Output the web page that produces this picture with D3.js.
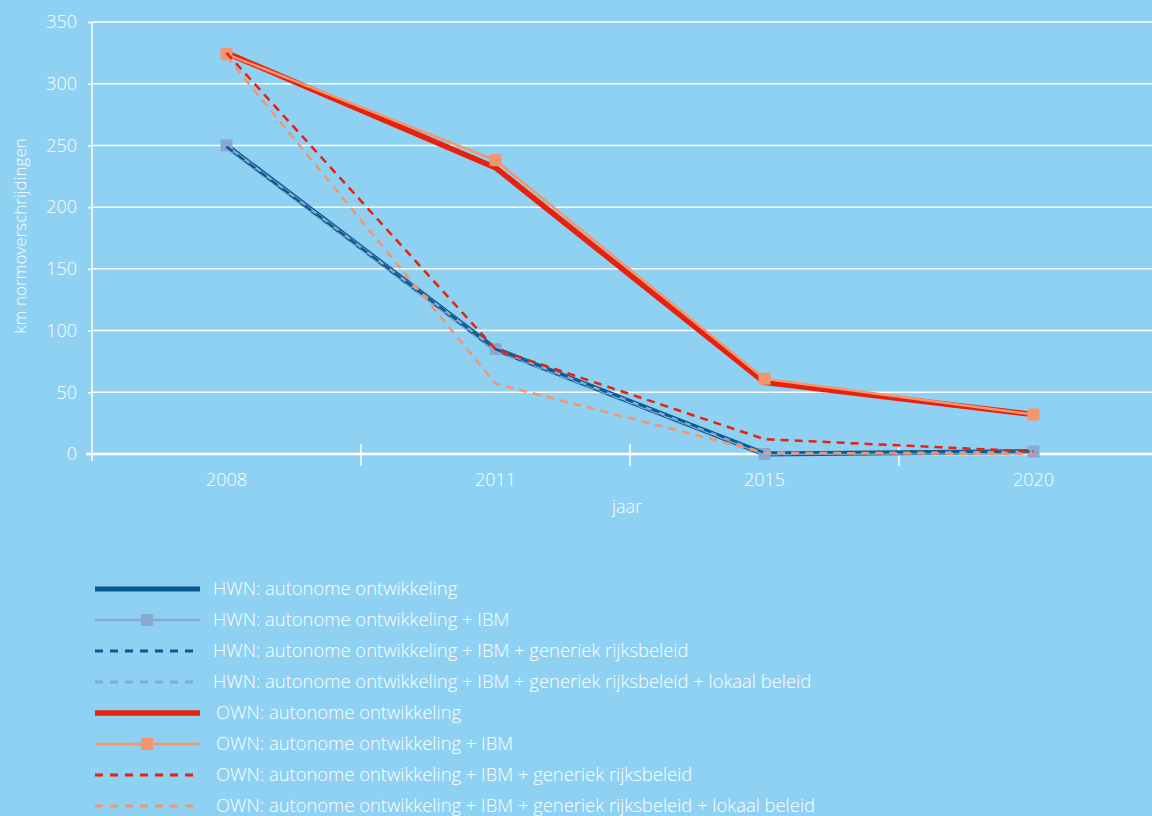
<!DOCTYPE html>
<html><head><meta charset="utf-8">
<script src="https://cdn.jsdelivr.net/npm/d3@7"></script>
<style>
html,body{margin:0;padding:0;background:#8ed1f2;}
svg{display:block;}
text{font-family:"Open Sans",Lato,sans-serif;fill:#fff;}
</style></head>
<body>
<svg id="c" width="1152" height="816"></svg>
<script>
const years = ["2008","2011","2015","2020"];
const yTicks = [0,50,100,150,200,250,300,350];
const hwnAuto = [250,85,0,2];
const hwnIbm = [250,85,0,2];
const hwnGen = [249,85,1,2];
const hwnLok = [248,84,0,1];
const ownAuto = [325,232,58,32];
const ownIbm = [324,238,61,32];
const ownGen = [325,85,12,2];
const ownLok = [322,57,1,0];
const seriesNames = [
 "HWN: autonome ontwikkeling",
 "HWN: autonome ontwikkeling + IBM",
 "HWN: autonome ontwikkeling + IBM + generiek rijksbeleid",
 "HWN: autonome ontwikkeling + IBM + generiek rijksbeleid + lokaal beleid",
 "OWN: autonome ontwikkeling",
 "OWN: autonome ontwikkeling + IBM",
 "OWN: autonome ontwikkeling + IBM + generiek rijksbeleid",
 "OWN: autonome ontwikkeling + IBM + generiek rijksbeleid + lokaal beleid"
];
const DARK="#0a5a92", LIGHT="#89a9d3", RED="#e8200c", PEACH="#f3966d";
const styles = [
 {c:DARK,w:5,d:null,m:false},
 {c:LIGHT,w:2.5,d:null,m:true},
 {c:DARK,w:2.5,d:"8,6",m:false},
 {c:LIGHT,w:2.5,d:"8,6",m:false},
 {c:RED,w:5.5,d:null,m:false},
 {c:PEACH,w:2.5,d:null,m:true},
 {c:RED,w:2.5,d:"8,6",m:false},
 {c:PEACH,w:2.5,d:"8,6",m:false}
];
const data = [hwnAuto,hwnIbm,hwnGen,hwnLok,ownAuto,ownIbm,ownGen,ownLok];

const svg = d3.select("#c");
const x = d3.scaleBand().domain(years).range([92,1168]);
const y = d3.scaleLinear().domain([0,350]).range([454,22]);
const cx = d => x(d)+x.bandwidth()/2;

// gridlines
svg.append("g").selectAll("line").data(yTicks.filter(t=>t>0)).join("line")
 .attr("x1",92).attr("x2",1152).attr("y1",d=>y(d)).attr("y2",d=>y(d))
 .attr("stroke","#fff").attr("stroke-width",1.5);
// y axis
const ya = svg.append("g").attr("transform","translate(92,0)")
 .call(d3.axisLeft(y).tickValues(yTicks).tickSize(4).tickPadding(11));
ya.select(".domain").remove();
ya.selectAll("line").attr("stroke","#fff").attr("stroke-width",1.5);
ya.selectAll("text").attr("fill","#fff").style("font-size","18px").style("font-family","'Open Sans',sans-serif").style("font-weight","300");
svg.append("line").attr("x1",92).attr("x2",92).attr("y1",y(350)).attr("y2",461).attr("stroke","#fff").attr("stroke-width",1.5);
// x axis
const xa = svg.append("g").attr("transform","translate(0,454)")
 .call(d3.axisBottom(x).tickSize(0).tickPadding(19));
xa.select(".domain").remove();
xa.selectAll("text").attr("fill","#fff").style("font-size","18px").style("font-family","'Open Sans',sans-serif").style("font-weight","300");
svg.append("line").attr("x1",86).attr("x2",1152).attr("y1",454).attr("y2",454).attr("stroke","#fff").attr("stroke-width",2.5);
svg.append("g").selectAll("line").data(years.slice(1)).join("line")
 .attr("x1",d=>x(d)).attr("x2",d=>x(d)).attr("y1",444).attr("y2",466)
 .attr("stroke","#fff").attr("stroke-width",1.5);

svg.append("text").attr("transform","translate(26,236) rotate(-90)").attr("text-anchor","middle")
 .style("font-size","17px").style("font-weight","300").text("km normoverschrijdingen");
svg.append("text").attr("x",627).attr("y",513).attr("text-anchor","middle")
 .style("font-size","18px").style("font-weight","300").text("jaar");

// lines
const line = d3.line().x((d,i)=>cx(years[i])).y(d=>y(d));
const order = [0,1,3,2,4,5,7,6];
order.forEach(k=>{
 const s=styles[k];
 svg.append("path").datum(data[k]).attr("d",line).attr("fill","none")
  .attr("stroke",s.c).attr("stroke-width",s.w).attr("stroke-dasharray",s.d)
  .attr("stroke-linejoin","miter");
 if(s.m){
  svg.append("g").selectAll("rect").data(data[k]).join("rect")
   .attr("x",(d,i)=>cx(years[i])-6).attr("y",d=>y(d)-6).attr("width",12).attr("height",12).attr("fill",s.c);
 }
});

// legend
const lg = svg.append("g");
seriesNames.forEach((n,i)=>{
 const yy = 589 + i*31;
 const s = styles[i];
 lg.append("line").attr("x1",95).attr("x2",200).attr("y1",yy).attr("y2",yy)
  .attr("stroke",s.c).attr("stroke-width",s.w===2.5?(s.d?3:2.5):s.w).attr("stroke-dasharray",s.d?"8,7":null);
 if(s.m) lg.append("rect").attr("x",141).attr("y",yy-6).attr("width",12).attr("height",12).attr("fill",s.c);
 lg.append("text").attr("x",i<4?213:216).attr("y",yy+6).style("font-size","18.4px").style("font-weight","300")
  .text(n);
});
</script>
</body></html>
